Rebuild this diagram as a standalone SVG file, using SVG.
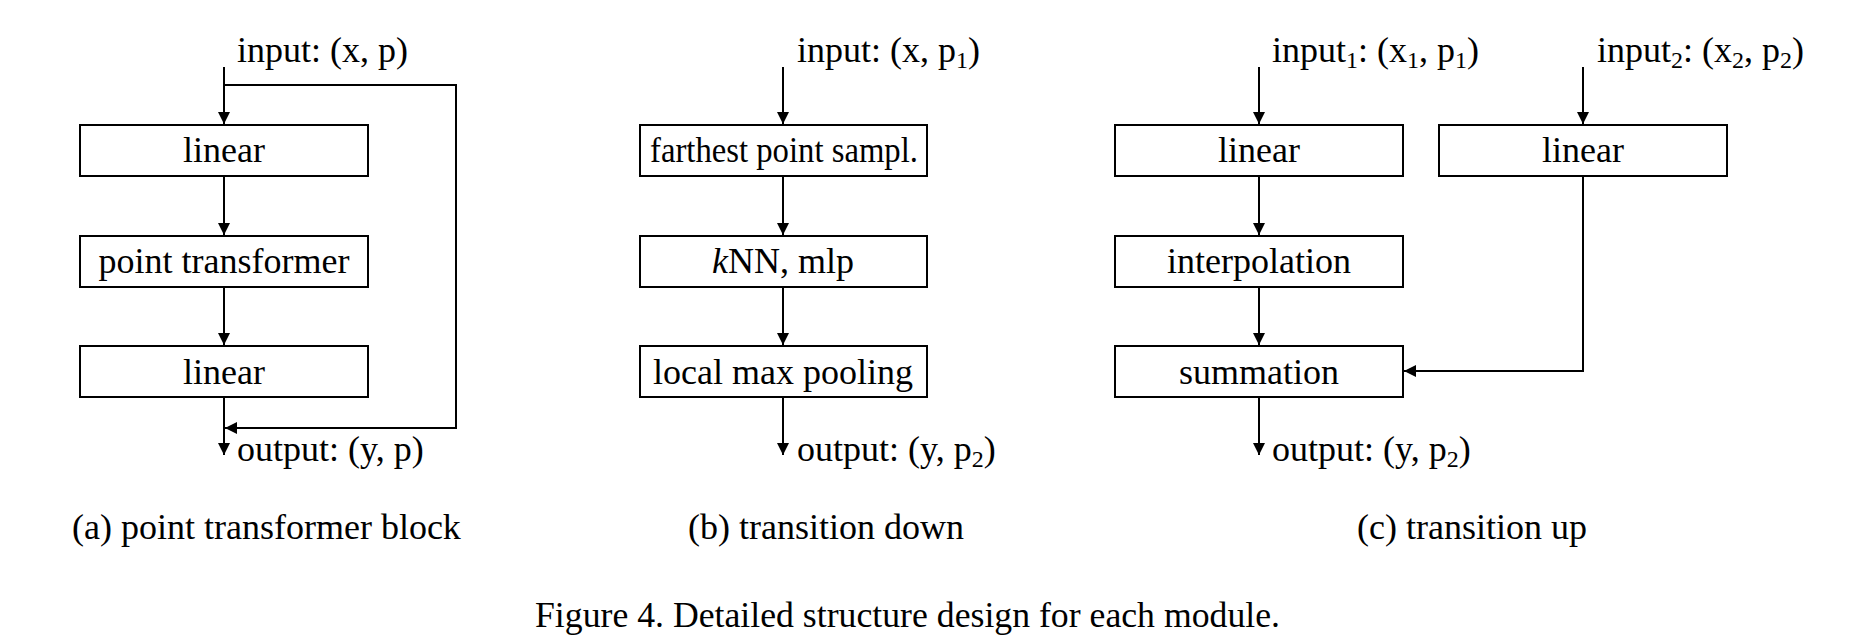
<svg xmlns="http://www.w3.org/2000/svg" width="1872" height="638" viewBox="0 0 1872 638">
<style>
text { font-family: "Liberation Serif", "Times New Roman", serif; font-size: 36px; fill: #000; }
.sub { font-size: 24px; }
.box { fill: #fff; stroke: #000; stroke-width: 2; }
.wire { fill: none; stroke: #000; stroke-width: 2; }
</style>
<defs>
<marker id="arr" markerUnits="userSpaceOnUse" markerWidth="12" markerHeight="12" viewBox="0 0 10 10" refX="10" refY="5" orient="auto">
<path d="M0,0 L10,5 L0,10 z" fill="#000"/>
</marker>
</defs>
<rect width="1872" height="638" fill="#fff"/>

<g id="connectors">
<!-- (a) -->
<path class="wire" d="M224,67 L224,124" marker-end="url(#arr)"/>
<path class="wire" d="M224,85 L456,85 L456,428 L225,428" marker-end="url(#arr)"/>
<path class="wire" d="M224,176 L224,235" marker-end="url(#arr)"/>
<path class="wire" d="M224,287 L224,345" marker-end="url(#arr)"/>
<path class="wire" d="M224,397 L224,455" marker-end="url(#arr)"/>
<!-- (b) -->
<path class="wire" d="M783,67 L783,124" marker-end="url(#arr)"/>
<path class="wire" d="M783,176 L783,235" marker-end="url(#arr)"/>
<path class="wire" d="M783,287 L783,345" marker-end="url(#arr)"/>
<path class="wire" d="M783,397 L783,455" marker-end="url(#arr)"/>
<!-- (c) -->
<path class="wire" d="M1259,67 L1259,124" marker-end="url(#arr)"/>
<path class="wire" d="M1583,67 L1583,124" marker-end="url(#arr)"/>
<path class="wire" d="M1259,176 L1259,235" marker-end="url(#arr)"/>
<path class="wire" d="M1259,287 L1259,345" marker-end="url(#arr)"/>
<path class="wire" d="M1583,176 L1583,371 L1404,371" marker-end="url(#arr)"/>
<path class="wire" d="M1259,397 L1259,455" marker-end="url(#arr)"/>
</g>

<!-- (a) point transformer block -->
<g id="a-input"><text x="237" y="62">input: (x, p)</text></g>
<g id="a-linear1"><rect class="box" x="80" y="125" width="288" height="51"/><text x="224" y="162" text-anchor="middle">linear</text></g>
<g id="a-pt"><rect class="box" x="80" y="236" width="288" height="51"/><text x="224" y="273" text-anchor="middle">point transformer</text></g>
<g id="a-linear2"><rect class="box" x="80" y="346" width="288" height="51"/><text x="224" y="384" text-anchor="middle">linear</text></g>
<g id="a-output"><text x="237" y="461">output: (y, p)</text></g>
<g id="a-caption"><text x="72" y="539">(a) point transformer block</text></g>

<!-- (b) transition down -->
<g id="b-input"><text x="797" y="62">input: (x, p<tspan class="sub" dy="6">1</tspan><tspan dy="-6">)</tspan></text></g>
<g id="b-fps"><rect class="box" x="640" y="125" width="287" height="51"/><text x="650" y="162" textLength="268" lengthAdjust="spacingAndGlyphs">farthest point sampl.</text></g>
<g id="b-knn"><rect class="box" x="640" y="236" width="287" height="51"/><text x="783" y="273" text-anchor="middle"><tspan font-style="italic">k</tspan>NN, mlp</text></g>
<g id="b-pool"><rect class="box" x="640" y="346" width="287" height="51"/><text x="783" y="384" text-anchor="middle">local max pooling</text></g>
<g id="b-output"><text x="797" y="461">output: (y, p<tspan class="sub" dy="6">2</tspan><tspan dy="-6">)</tspan></text></g>
<g id="b-caption"><text x="688" y="539">(b) transition down</text></g>

<!-- (c) transition up -->
<g id="c-input1"><text x="1272" y="62">input<tspan class="sub" dy="6">1</tspan><tspan dy="-6">: (x</tspan><tspan class="sub" dy="6">1</tspan><tspan dy="-6">, p</tspan><tspan class="sub" dy="6">1</tspan><tspan dy="-6">)</tspan></text></g>
<g id="c-input2"><text x="1597" y="62">input<tspan class="sub" dy="6">2</tspan><tspan dy="-6">: (x</tspan><tspan class="sub" dy="6">2</tspan><tspan dy="-6">, p</tspan><tspan class="sub" dy="6">2</tspan><tspan dy="-6">)</tspan></text></g>
<g id="c-linear1"><rect class="box" x="1115" y="125" width="288" height="51"/><text x="1259" y="162" text-anchor="middle">linear</text></g>
<g id="c-linear2"><rect class="box" x="1439" y="125" width="288" height="51"/><text x="1583" y="162" text-anchor="middle">linear</text></g>
<g id="c-interp"><rect class="box" x="1115" y="236" width="288" height="51"/><text x="1259" y="273" text-anchor="middle">interpolation</text></g>
<g id="c-sum"><rect class="box" x="1115" y="346" width="288" height="51"/><text x="1259" y="384" text-anchor="middle">summation</text></g>
<g id="c-output"><text x="1272" y="461">output: (y, p<tspan class="sub" dy="6">2</tspan><tspan dy="-6">)</tspan></text></g>
<g id="c-caption"><text x="1357" y="539">(c) transition up</text></g>

<g id="figure-caption"><text x="535" y="627" textLength="745" lengthAdjust="spacingAndGlyphs">Figure 4. Detailed structure design for each module.</text></g>
</svg>
